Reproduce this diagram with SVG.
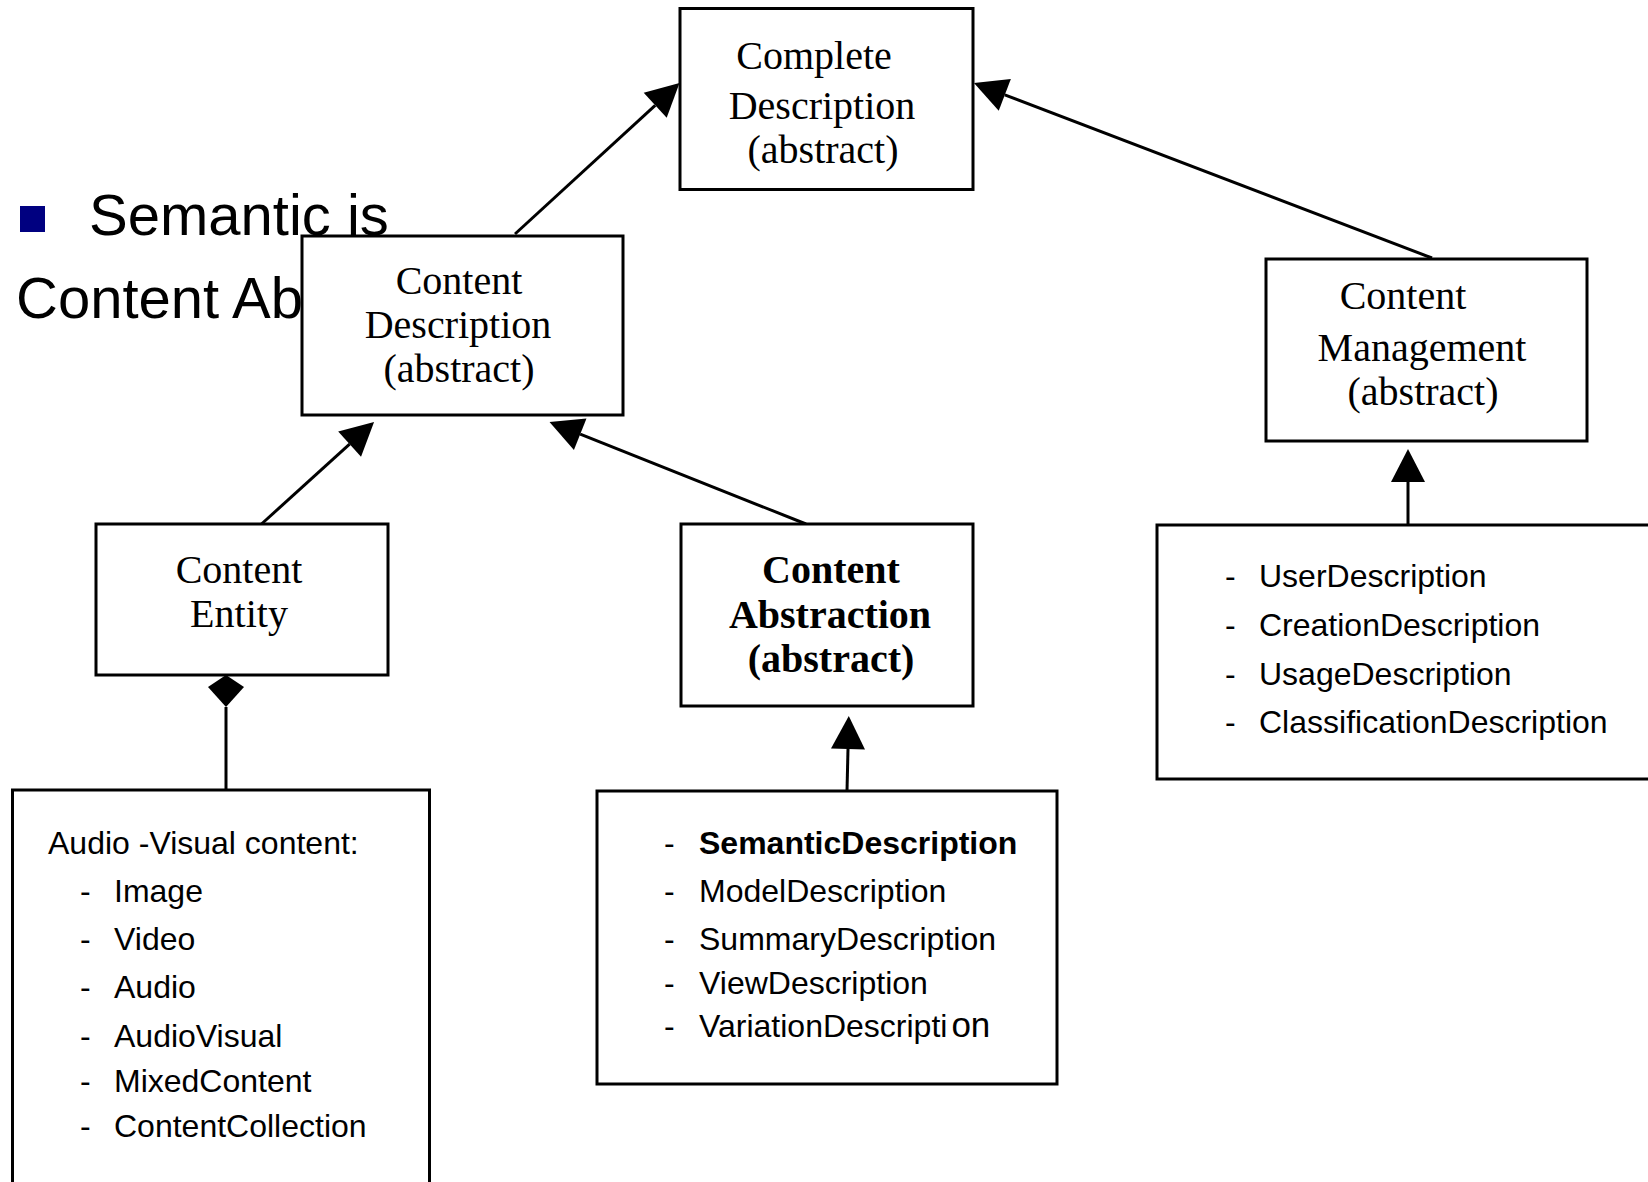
<svg xmlns="http://www.w3.org/2000/svg" width="1648" height="1182" viewBox="0 0 1648 1182">
<style>
.box{fill:#fff;stroke:#000;stroke-width:3}
.conn{fill:none;stroke:#000;stroke-width:3}
.serif{font-family:"Liberation Serif","Times New Roman",serif;font-size:40px;fill:#000;text-anchor:middle}
.serifb{font-family:"Liberation Serif","Times New Roman",serif;font-size:40px;font-weight:bold;fill:#000;text-anchor:middle}
.sans{font-family:"Liberation Sans",Arial,sans-serif;font-size:32px;fill:#000}
.big{font-family:"Liberation Sans",Arial,sans-serif;font-size:58px;fill:#000}
</style>
<defs>
<marker id="tri" markerUnits="userSpaceOnUse" viewBox="0 -17 33 34" refX="0" refY="0" markerWidth="33" markerHeight="34" orient="auto" overflow="visible">
<path d="M0,-17 L33,0 L0,17 z" fill="#000"/>
</marker>
<marker id="dia" markerUnits="userSpaceOnUse" viewBox="0 -19 33 38" refX="0" refY="0" markerWidth="33" markerHeight="38" orient="auto" overflow="visible">
<path d="M0,0 L20,-18 L32,0 L20,18 z" fill="#000"/>
</marker>
</defs>
<rect width="1648" height="1182" fill="#fff"/>
<g id="slide-text">
<rect x="20" y="206" width="25" height="26" fill="#000080"/>
<text class="big" x="89" y="235">Semantic is</text>
<text class="big" x="16" y="318">Content Ab</text>
</g>
<g id="connectors">
<line class="conn" x1="515" y1="234" x2="655.2" y2="105.3" marker-end="url(#tri)"/>
<line class="conn" x1="1432" y1="258" x2="1004.8" y2="94.8" marker-end="url(#tri)"/>
<line class="conn" x1="261.5" y1="524" x2="349.6" y2="444.2" marker-end="url(#tri)"/>
<line class="conn" x1="806" y1="524" x2="580.2" y2="434.2" marker-end="url(#tri)"/>
<line class="conn" x1="847" y1="791" x2="848" y2="749" marker-end="url(#tri)"/>
<line class="conn" x1="1408" y1="525" x2="1408" y2="482" marker-end="url(#tri)"/>
<line class="conn" x1="226" y1="790" x2="226" y2="707" marker-end="url(#dia)"/>
</g>
<g id="complete-description">
<rect class="box" x="680" y="8.5" width="293" height="181"/>
<text class="serif" x="814" y="69">Complete</text>
<text class="serif" x="822" y="119">Description</text>
<text class="serif" x="823" y="163">(abstract)</text>
</g>
<g id="content-description">
<rect class="box" x="302" y="236" width="321" height="179"/>
<text class="serif" x="459" y="294">Content</text>
<text class="serif" x="458" y="338">Description</text>
<text class="serif" x="459" y="382">(abstract)</text>
</g>
<g id="content-management">
<rect class="box" x="1266" y="259" width="321" height="182"/>
<text class="serif" x="1403" y="309" font-size="37.5">Content</text>
<text class="serif" x="1422" y="361">Management</text>
<text class="serif" x="1423" y="405">(abstract)</text>
</g>
<g id="content-entity">
<rect class="box" x="96" y="524" width="292" height="151"/>
<text class="serif" x="239" y="583">Content</text>
<text class="serif" x="239" y="627">Entity</text>
</g>
<g id="content-abstraction">
<rect class="box" x="681" y="524" width="292" height="182"/>
<text class="serifb" x="831" y="583">Content</text>
<text class="serifb" x="830" y="628">Abstraction</text>
<text class="serifb" x="831" y="672">(abstract)</text>
</g>
<g id="audio-visual-list">
<rect class="box" x="12.5" y="790" width="417" height="430"/>
<text class="sans" x="48" y="854">Audio -Visual content:</text>
<text class="sans" x="80" y="902">-</text><text class="sans" x="114" y="902">Image</text>
<text class="sans" x="80" y="950">-</text><text class="sans" x="114" y="950">Video</text>
<text class="sans" x="80" y="998">-</text><text class="sans" x="114" y="998">Audio</text>
<text class="sans" x="80" y="1047">-</text><text class="sans" x="114" y="1047">AudioVisual</text>
<text class="sans" x="80" y="1092">-</text><text class="sans" x="114" y="1092">MixedContent</text>
<text class="sans" x="80" y="1137">-</text><text class="sans" x="114" y="1137">ContentCollection</text>
</g>
<g id="abstraction-list">
<rect class="box" x="597" y="791" width="460" height="293"/>
<text class="sans" x="664" y="854">-</text><text class="sans" x="699" y="854" font-weight="bold">SemanticDescription</text>
<text class="sans" x="664" y="902">-</text><text class="sans" x="699" y="902">ModelDescription</text>
<text class="sans" x="664" y="950">-</text><text class="sans" x="699" y="950">SummaryDescription</text>
<text class="sans" x="664" y="994">-</text><text class="sans" x="699" y="994">ViewDescription</text>
<text class="sans" x="664" y="1037">-</text><text class="sans" x="699" y="1037">VariationDescripti<tspan dx="4" font-size="35">on</tspan></text>
</g>
<g id="management-list">
<rect class="box" x="1157" y="525" width="520" height="254"/>
<text class="sans" x="1225" y="587">-</text><text class="sans" x="1259" y="587">UserDescription</text>
<text class="sans" x="1225" y="636">-</text><text class="sans" x="1259" y="636">CreationDescription</text>
<text class="sans" x="1225" y="685">-</text><text class="sans" x="1259" y="685">UsageDescription</text>
<text class="sans" x="1225" y="733">-</text><text class="sans" x="1259" y="733">ClassificationDescription</text>
</g>
</svg>
